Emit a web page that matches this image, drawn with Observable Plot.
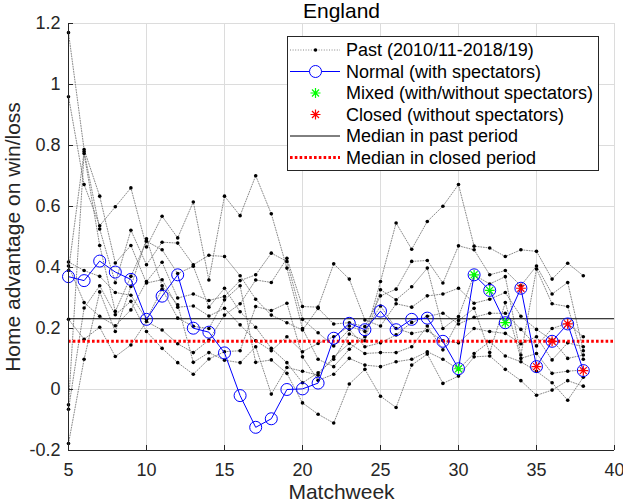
<!DOCTYPE html>
<html><head><meta charset="utf-8">
<script src="https://cdn.jsdelivr.net/npm/d3@7"></script>
<script src="https://cdn.jsdelivr.net/npm/@observablehq/plot@0.6"></script>
<style>
body{margin:0;background:#fff;font-family:"Liberation Sans",Arial,Helvetica,sans-serif;}
#wrap{position:relative;width:623px;height:504px;}
#legend{position:absolute;left:287px;top:36px;}
</style></head><body><div id="wrap"></div>
<script>
// ---------- data ----------
const matchweeks = [5,6,7,8,9,10,11,12,13,14,15,16,17,18,19,20,21,22,23,24,25,26,27,28,29,30,31,32,33,34,35,36,37,38];
const seasons = ["2010/11","2011/12","2012/13","2013/14","2014/15","2015/16","2016/17","2017/18","2018/19"];
const past1 = [1.17,0.787,0.634,0.415,0.472,0.349,0.36,0.27,0.274,0.241,0.266,0.212,0.16,0.127,0.173,0.124,0.151,0.173,0.208,0.19,0.274,0.2,0.184,0.193,0.16,0.153,0.2,0.19,0.184,0.15,0.173,0.097,0.153,0.14];
const past2 = [0.96,0.672,0.537,0.599,0.661,0.467,0.568,0.497,0.615,0.359,0.634,0.57,0.701,0.576,0.398,0.2,0.099,0.075,0.132,0.173,0.354,0.546,0.46,0.551,0.601,0.672,0.47,0.464,0.436,0.458,0.453,0.362,0.414,0.373];
const past3 = [0.418,0.39,0.371,0.318,0.309,0.23,0.329,0.234,0.207,0.2,0.294,0.34,0.089,0.097,0.053,-0.044,-0.081,-0.11,0.018,0.066,-0.022,-0.059,0.08,0.116,0.02,0.044,0.107,0.11,0.066,0.029,-0.019,-0.002,0.029,0.011];
const past4 = [0.405,0.285,0.24,0.209,0.261,0.354,0.417,0.3,0.313,0.292,0.305,0.357,0.376,0.447,0.42,0.23,0.186,0.143,0.197,0.14,0.153,0.179,0.22,0.24,0.25,0.215,0.237,0.25,0.25,0.197,0.143,0.2,0.217,0.173];
const past5 = [0.39,0.78,0.526,0.35,0.522,0.409,0.483,0.48,0.409,0.44,0.436,0.373,0.296,0.244,0.219,0.195,0.266,0.215,0.219,0.206,0.307,0.329,0.42,0.423,0.349,0.471,0.458,0.376,0.39,0.34,0.405,0.313,0.351,0.127];
const past6 = [0.23,0.165,0.204,0.108,0.146,0.223,0.195,0.15,0.121,0.162,0.244,0.281,0.359,0.351,0.43,0.272,0.27,0.412,0.362,0.228,0.208,0.281,0.27,0.307,0.313,0.332,0.283,0.296,0.318,0.24,0.197,0.162,0.102,0.113];
const past7 = [-0.05,0.774,0.472,0.256,0.371,0.486,0.458,0.38,0.404,0.27,0.332,0.255,0.204,0.135,0.088,0.022,0.055,0.099,0.182,0.16,0.327,0.294,0.337,0.398,0.2,0.239,0.376,0.346,0.37,0.113,0.395,0.281,0.272,0.099];
const past8 = [-0.065,0.267,0.34,0.245,0.289,0.19,0.135,0.088,0.05,0.1,0.124,0.127,0.272,0.259,0.283,0.107,0.03,0.05,0.102,0.08,0.075,0.091,0.099,0.124,0.099,0.066,0.118,0.157,0.11,0.091,0.06,0.022,-0.035,0.04];
const past9 = [-0.177,0.099,0.32,0.19,0.338,0.494,0.34,0.278,0.089,0.121,0.096,0.088,0.14,-0.015,0.072,0.06,0.047,0.107,0.151,0.118,0.121,0.121,0.14,0.208,0.13,0.226,0.266,0.121,0.285,0.102,0.118,0.053,0.06,0.064];
const current = [0.37,0.357,0.421,0.385,0.361,0.23,0.306,0.376,0.201,0.188,0.12,-0.02,-0.124,-0.096,0.0,0.002,0.021,0.168,0.217,0.196,0.257,0.196,0.23,0.234,0.158,0.068,0.376,0.325,0.219,0.332,0.075,0.158,0.215,0.062];
const mixedWeeks = [30,31,32,33];
const closedWeeks = [34,35,36,37,38];
const medianPast = 0.232;
const xTicks = [5,10,15,20,25,30,35,40];
const yTicks = [-0.2,0,0.2,0.4,0.6,0.8,1,1.2];
const legendLabels = ["Past (2010/11-2018/19)","Normal (with spectators)","Mixed (with/without spectators)","Closed (without spectators)","Median in past period","Median in closed period"];

// ---------- tables ----------
const pastSeries = [past1,past2,past3,past4,past5,past6,past7,past8,past9];
const pastRows = pastSeries.flatMap((arr, i) => arr.map((v, j) => ({season: seasons[i], week: matchweeks[j], value: v})));
const curRows = current.map((v, j) => ({week: matchweeks[j], value: v}));
const mixedRows = curRows.filter(d => mixedWeeks.includes(d.week));
const closedRows = curRows.filter(d => closedWeeks.includes(d.week));
const medianClosed = d3.median(closedRows, d => d.value);

// 8-arm asterisk like MATLAB '*'
const star = {draw(ctx, size) {
  const r = Math.sqrt(size / Math.PI);
  const d = r * Math.SQRT1_2;
  ctx.moveTo(-r, 0); ctx.lineTo(r, 0);
  ctx.moveTo(0, -r); ctx.lineTo(0, r);
  ctx.moveTo(-d, -d); ctx.lineTo(d, d);
  ctx.moveTo(-d, d); ctx.lineTo(d, -d);
}};

const FONT = '"Liberation Sans",Arial,Helvetica,sans-serif';
const axisCol = "#262626";
const pastStroke = "#6a6a6a", pastDash = "1,1.6", pastWidth = 0.8;

const chart = Plot.plot({
  width: 623, height: 504,
  marginLeft: 68, marginRight: 9, marginTop: 23, marginBottom: 54,
  style: {fontFamily: FONT, background: "white", overflow: "visible"},
  x: {domain: [5, 40]},
  y: {domain: [-0.2, 1.2]},
  marks: [
    Plot.gridX(xTicks, {stroke: "#dcdcdc", strokeOpacity: 1}),
    Plot.gridY(yTicks, {stroke: "#dcdcdc", strokeOpacity: 1}),
    Plot.line(pastRows, {x: "week", y: "value", z: "season", stroke: pastStroke, strokeWidth: pastWidth, strokeDasharray: pastDash}),
    Plot.dot(pastRows, {x: "week", y: "value", r: 1.8, fill: "black"}),
    Plot.ruleY([medianPast], {stroke: "black", strokeWidth: 1}),
    Plot.ruleY([medianClosed], {stroke: "#ff0000", strokeWidth: 3, strokeDasharray: "2.6,2.2"}),
    Plot.line(curRows, {x: "week", y: "value", stroke: "#0000ff", strokeWidth: 1}),
    Plot.dot(curRows, {x: "week", y: "value", r: 6, stroke: "#0000ff", strokeWidth: 1, fill: "none"}),
    Plot.dot(mixedRows, {x: "week", y: "value", r: 5, symbol: star, stroke: "#00ff00", strokeWidth: 1.2}),
    Plot.dot(closedRows, {x: "week", y: "value", r: 5, symbol: star, stroke: "#ff0000", strokeWidth: 1.2}),
    Plot.ruleX([5], {stroke: axisCol, strokeWidth: 1}),
    Plot.ruleY([-0.2], {stroke: axisCol, strokeWidth: 1}),
    Plot.axisX(xTicks, {anchor: "bottom", tickSize: -5, tickPadding: 18, fontSize: 18, fill: axisCol, stroke: axisCol, label: null, tickFormat: d => String(d)}),
    Plot.axisY(yTicks, {anchor: "left", tickSize: -5, tickPadding: 13, fontSize: 18, fill: axisCol, stroke: axisCol, label: null, tickFormat: d => String(d)}),
    Plot.text(["England"], {frameAnchor: "top", dy: -12.5, fontSize: 21, fill: "black", lineAnchor: "middle", textAnchor: "middle"}),
    Plot.text(["Matchweek"], {frameAnchor: "bottom", dy: 42, fontSize: 21, fill: axisCol, lineAnchor: "middle", textAnchor: "middle"}),
    Plot.text(["Home advantage on win/loss"], {frameAnchor: "left", dx: -55, rotate: -90, fontSize: 21, fill: axisCol, lineAnchor: "middle", textAnchor: "middle"})
  ]
});
document.getElementById("wrap").appendChild(chart);

// ---------- legend (overlay inside the axes, like MATLAB) ----------
const W = 311, H = 134, rowY = [14, 35.5, 57, 78.5, 100, 121.5], x0 = 3, x1 = 53, xm = 28.5, tx = 59;
const lg = d3.select("#wrap").append("svg").attr("id", "legend")
  .attr("width", W + 1).attr("height", H + 1).style("font-family", FONT);
lg.append("rect").attr("x", 0.5).attr("y", 0.5).attr("width", W).attr("height", H)
  .attr("fill", "white").attr("stroke", axisCol).attr("stroke-width", 1);
// past
lg.append("line").attr("x1", x0).attr("x2", x1).attr("y1", rowY[0]).attr("y2", rowY[0]).attr("stroke", pastStroke).attr("stroke-width", pastWidth).attr("stroke-dasharray", pastDash);
lg.append("circle").attr("cx", xm).attr("cy", rowY[0]).attr("r", 1.8).attr("fill", "black");
// normal
lg.append("line").attr("x1", x0).attr("x2", x1).attr("y1", rowY[1]).attr("y2", rowY[1]).attr("stroke", "#0000ff").attr("stroke-width", 1);
lg.append("circle").attr("cx", xm).attr("cy", rowY[1]).attr("r", 6).attr("fill", "white").attr("stroke", "#0000ff");
// mixed & closed stars
[[rowY[2], "#00ff00"], [rowY[3], "#ff0000"]].forEach(([yy, c]) => {
  const p = d3.path(); star.draw(p, Math.PI * 25);
  lg.append("path").attr("d", p.toString()).attr("transform", `translate(${xm},${yy})`).attr("stroke", c).attr("stroke-width", 1.2).attr("fill", "none");
});
// medians
lg.append("line").attr("x1", x0).attr("x2", x1).attr("y1", rowY[4]).attr("y2", rowY[4]).attr("stroke", "black").attr("stroke-width", 1);
lg.append("line").attr("x1", x0).attr("x2", x1).attr("y1", rowY[5]).attr("y2", rowY[5]).attr("stroke", "#ff0000").attr("stroke-width", 3).attr("stroke-dasharray", "2.6,2.2");
legendLabels.forEach((t, i) => {
  lg.append("text").attr("x", tx).attr("y", rowY[i]).attr("dy", "0.35em").attr("font-size", 18).attr("fill", "black").text(t);
});
</script>
</body></html>
